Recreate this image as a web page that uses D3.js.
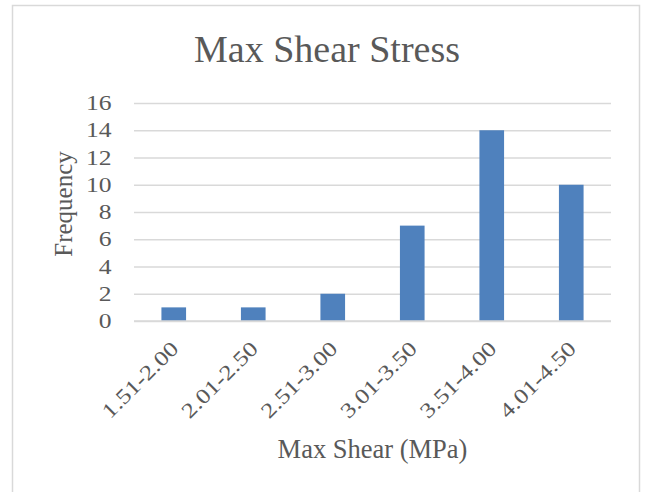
<!DOCTYPE html>
<html>
<head>
<meta charset="utf-8">
<script src="https://cdn.jsdelivr.net/npm/d3@7"></script>
<style>
  body { margin: 0; background: #fff; }
</style>
</head>
<body>
<svg id="pic" width="645" height="492"></svg>
<script>
var categories = ["1.51-2.00", "2.01-2.50", "2.51-3.00", "3.01-3.50", "3.51-4.00", "4.01-4.50"];
var frequency = [1, 1, 2, 7, 14, 10];
var yTicks = [0, 2, 4, 6, 8, 10, 12, 14, 16];

var svg = d3.select("#pic");
var textColor = "#595959";
var serif = "'Liberation Serif', serif";
var stretch = 1.22; // widen the Times-like glyphs toward Cambria proportions

// chart frame
svg.append("rect")
  .attr("x", 12.5).attr("y", 5.5)
  .attr("width", 627).attr("height", 500)
  .attr("fill", "#fff")
  .attr("stroke", "#d9d9d9")
  .attr("stroke-width", 1.5);

var plotLeft = 134, plotRight = 611, plotTop = 103, plotBottom = 321;

var x = d3.scaleBand().domain(categories).range([plotLeft, plotRight]).paddingInner(0.69).paddingOuter(0.345);
var y = d3.scaleLinear().domain([0, 16]).range([plotBottom, plotTop]);

// gridlines
svg.append("g")
  .attr("transform", "translate(" + plotLeft + ",0)")
  .call(d3.axisLeft(y).tickValues(yTicks).tickSize(-(plotRight - plotLeft)).tickFormat(""))
  .call(function(g){
    g.select(".domain").remove();
    g.selectAll("line").attr("stroke", "#d9d9d9").attr("stroke-width", 1.3);
  });

// y tick labels
svg.append("g")
  .attr("transform", "translate(" + plotLeft + ",0)")
  .call(d3.axisLeft(y).tickValues(yTicks).tickSize(0).tickPadding(22.5 / stretch))
  .call(function(g){
    g.select(".domain").remove();
    g.selectAll("text")
      .attr("fill", textColor)
      .attr("font-family", serif)
      .attr("font-size", 21)
      .attr("transform", "scale(" + stretch + ",1)");
  });

// bars
svg.selectAll(".bar")
  .data(frequency)
  .enter().append("rect")
  .attr("class", "bar")
  .attr("x", function(d, i){ return x(categories[i]); })
  .attr("width", x.bandwidth())
  .attr("y", function(d){ return y(d); })
  .attr("height", function(d){ return y(0) - y(d); })
  .attr("fill", "#4f81bd");

// x axis line
svg.append("line")
  .attr("x1", plotLeft).attr("x2", plotRight)
  .attr("y1", y(0)).attr("y2", y(0))
  .attr("stroke", "#d9d9d9").attr("stroke-width", 1.5);

// x tick labels, rotated
svg.append("g").selectAll("text")
  .data(categories)
  .enter().append("text")
  .attr("transform", function(d){
    return "translate(" + (x(d) + x.bandwidth() / 2 + 6) + "," + (plotBottom + 29) + ") rotate(-45) scale(" + stretch + ",1)";
  })
  .attr("text-anchor", "end")
  .attr("fill", textColor)
  .attr("font-family", serif)
  .attr("font-size", 21)
  .text(function(d){ return d; });

// titles
svg.append("text")
  .attr("x", 327).attr("y", 62)
  .attr("text-anchor", "middle")
  .attr("fill", textColor)
  .attr("font-family", serif)
  .attr("font-size", 38)
  .text("Max Shear Stress");

svg.append("text")
  .attr("x", (plotLeft + plotRight) / 2).attr("y", 458)
  .attr("text-anchor", "middle")
  .attr("fill", textColor)
  .attr("font-family", serif)
  .attr("font-size", 26.5)
  .text("Max Shear (MPa)");

svg.append("text")
  .attr("transform", "translate(72,204) rotate(-90)")
  .attr("text-anchor", "middle")
  .attr("fill", textColor)
  .attr("font-family", serif)
  .attr("font-size", 25)
  .text("Frequency");
</script>
</body>
</html>
